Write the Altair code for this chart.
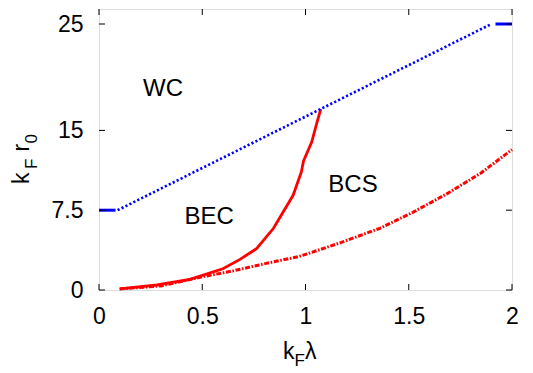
import altair as alt
import pandas as pd

# ---- data ----
bec_x = [0.10, 0.28, 0.44, 0.60, 0.683, 0.764, 0.845, 0.94, 0.98, 0.99, 1.03, 1.055, 1.074]
bec_y = [0.10, 0.47, 1.00, 2.00, 2.88, 3.90, 5.80, 8.90, 11.1, 12.1, 13.9, 15.7, 17.0]

bcs_x = [0.10, 0.30, 0.49, 0.65, 0.81, 0.97, 1.17, 1.36, 1.52, 1.69, 1.85, 2.00]
bcs_y = [0.10, 0.38, 1.20, 1.80, 2.50, 3.15, 4.45, 5.80, 7.30, 9.10, 11.0, 13.2]

wc_x = [0.00, 0.08, 0.09, 1.90, 1.92, 2.00]
wc_y = [7.5, 7.5, 7.5, 25.0, 25.0, 25.0]
wc_part = ["left", "left", "dotted", "dotted", "right", "right"]

label_text = ["WC", "BEC", "BCS"]
label_x = [0.31, 0.533, 1.23]
label_y = [18.9, 6.86, 9.87]

x_ticks = [0, 0.5, 1, 1.5, 2]
y_ticks = [0, 7.5, 15, 25]

W, H = 413, 281
FONT = "Liberation Sans"

bec = pd.DataFrame({"x": bec_x, "y": bec_y})
bcs = pd.DataFrame({"x": bcs_x, "y": bcs_y})
wc = pd.DataFrame({"x": wc_x, "y": wc_y, "part": wc_part})
labels = pd.DataFrame({"t": label_text, "x": label_x, "y": label_y})
xt = pd.DataFrame({"v": x_ticks})
yt = pd.DataFrame({"v": y_ticks})

xscale = alt.Scale(domain=[0, 2], nice=False, zero=False)
yscale = alt.Scale(domain=[0, 26.41], nice=False, zero=False)

xaxis = alt.Axis(values=x_ticks, format="~g", title=None, grid=False, domain=False,
                 ticks=False, tickSize=0, labelFontSize=23, labelFont=FONT,
                 labelColor="black", labelPadding=15, labelFlush=False)
yaxis = alt.Axis(values=y_ticks, format="~g", title=None, grid=False, domain=False,
                 ticks=False, tickSize=0, labelFontSize=23, labelFont=FONT,
                 labelColor="black", labelPadding=16)

X = alt.X("x:Q", scale=xscale, axis=xaxis)
Y = alt.Y("y:Q", scale=yscale, axis=yaxis)

wc_left = alt.Chart(wc).transform_filter("datum.part == 'left'").mark_line(
    color="#0000ff", strokeWidth=3).encode(x=X, y=Y)
wc_right = alt.Chart(wc).transform_filter("datum.part == 'right'").mark_line(
    color="#0000ff", strokeWidth=3).encode(x=X, y=Y)
wc_dot = alt.Chart(wc).transform_filter("datum.part == 'dotted'").mark_line(
    color="#0000ff", strokeWidth=2.6, strokeDash=[2.2, 2.2], strokeCap="butt").encode(x=X, y=Y)

bcs_line = alt.Chart(bcs).mark_line(color="#ff0000", strokeWidth=3,
                                    strokeDash=[5, 1.6, 1.6, 1.6]).encode(x=X, y=Y)
bec_line = alt.Chart(bec).mark_line(color="#ff0000", strokeWidth=2.8).encode(x=X, y=Y)

region = alt.Chart(labels).mark_text(fontSize=24, font=FONT, color="black",
                                     align="center", baseline="middle").encode(
    x=alt.X("x:Q", scale=xscale), y=alt.Y("y:Q", scale=yscale), text="t:N")

# inward mirrored ticks
tick_b = alt.Chart(xt).mark_rule(color="black", strokeWidth=1).encode(
    x=alt.X("v:Q", scale=xscale), y=alt.value(H), y2=alt.value(H - 6))
tick_t = alt.Chart(xt).mark_rule(color="black", strokeWidth=1).encode(
    x=alt.X("v:Q", scale=xscale), y=alt.value(0), y2=alt.value(6))
tick_l = alt.Chart(yt).mark_rule(color="black", strokeWidth=1).encode(
    y=alt.Y("v:Q", scale=yscale), x=alt.value(0), x2=alt.value(6))
tick_r = alt.Chart(yt).mark_rule(color="black", strokeWidth=1).encode(
    y=alt.Y("v:Q", scale=yscale), x=alt.value(W), x2=alt.value(W - 6))

one = pd.DataFrame({"a": [0]})

def piece(txt, px, py, size, angle=0):
    return alt.Chart(one).mark_text(text=txt, fontSize=size, font=FONT, color="black",
                                    align="left", baseline="alphabetic", angle=angle).encode(
        x=alt.value(px), y=alt.value(py))

# x title  k_F λ
xt_k = piece("k", 184, 350, 23)
xt_F = piece("F", 195.5, 357, 17)
xt_l = piece("λ", 206, 350, 23)
# y title  k_F r_0 (rotated)
yt_k = piece("k", -70.5, 175, 23, 270)
yt_F = piece("F", -62, 160, 17, 270)
yt_r = piece("r", -70.5, 142.5, 23, 270)
yt_0 = piece("0", -62, 134.5, 17, 270)

chart = alt.layer(
    bcs_line, bec_line, wc_dot, wc_left, wc_right, region,
    tick_b, tick_t, tick_l, tick_r,
    xt_k, xt_F, xt_l, yt_k, yt_F, yt_r, yt_0,
).properties(
    width=W, height=H,
    autosize=alt.AutoSizeParams(type="none"),
    padding={"left": 91, "top": 1, "right": 12, "bottom": 82},
).configure_view(stroke="black", strokeWidth=1.2).configure(font=FONT)

chart.save("out.html", embed_options={"renderer": "svg", "actions": False})
